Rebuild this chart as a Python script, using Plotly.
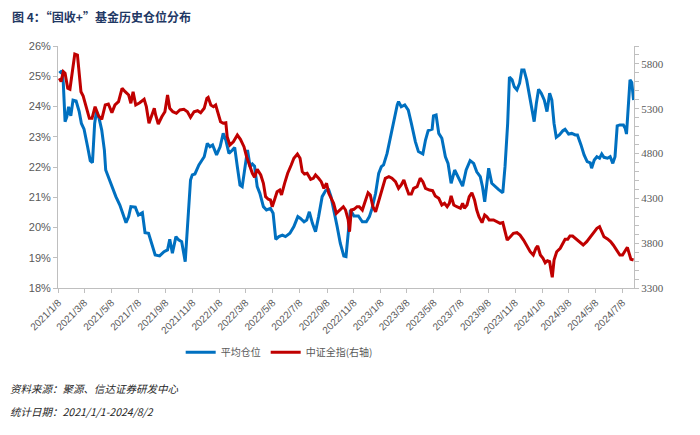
import pandas as pd
import plotly.graph_objects as go

# day offsets from 2021-01-08
START = "2021-01-08"

avg_days = [2, 8, 11, 15, 19, 23, 28, 33, 40, 47, 52, 58, 66, 72, 77, 82, 86, 92, 98, 104,
            107, 115, 123, 130, 139, 145, 153, 159, 164, 174, 181, 190, 196, 204, 209, 219, 229, 239, 247, 252,
            258, 266, 272, 279, 287, 292, 299, 303, 309, 318, 326, 330, 337, 343, 349, 358, 366, 373, 379, 386,
            394, 399, 405, 411, 416, 422, 428, 434, 439, 444, 450, 456, 464, 471, 480, 486, 492, 499, 507, 514,
            524, 533, 542, 548, 556, 562, 568, 575, 582, 589, 597, 605, 612, 617, 623, 631, 638, 646, 651, 656,
            661, 669, 679, 688, 697, 704, 710, 718, 725, 731, 736, 744, 752, 759, 767, 770, 776, 784, 792, 799,
            808, 815, 825, 831, 837, 846, 849, 855, 861, 868, 876, 882, 889, 897, 906, 915, 923, 932, 940, 947,
            955, 960, 965, 970, 974, 981, 989, 996, 1006, 1011, 1017, 1021, 1027, 1032, 1038, 1044, 1049, 1054, 1060, 1066,
            1072, 1077, 1082, 1087, 1093, 1100, 1106, 1112, 1117, 1122, 1127, 1134, 1142, 1147, 1155, 1162, 1170, 1175, 1183, 1190,
            1197, 1204, 1207, 1213, 1219, 1225, 1230, 1235, 1243, 1249, 1255, 1260, 1265, 1271, 1279, 1283, 1286, 1290, 1294, 1298,
            1302]
avg_pos = [25.10, 25.18, 24.77, 23.50, 23.66, 23.99, 23.69, 24.21, 24.18, 23.83, 23.44, 23.25, 22.67, 22.21, 22.14, 23.44, 23.83, 23.61, 23.22, 22.56,
           21.90, 21.59, 21.35, 21.02, 20.74, 20.47, 20.16, 20.36, 20.69, 20.67, 20.41, 20.49, 19.83, 19.81, 19.59, 19.09, 19.06, 19.20, 19.26, 19.61,
           19.15, 19.70, 19.59, 19.53, 18.87, 20.03, 21.57, 21.74, 21.77, 22.07, 22.23, 22.34, 22.78, 22.67, 22.73, 22.40, 22.67, 23.11, 22.89, 22.45,
           22.56, 22.65, 22.01, 21.40, 21.35, 21.90, 22.56, 22.01, 22.10, 22.03, 21.35, 21.13, 20.69, 20.58, 20.63, 20.47, 19.61, 19.70, 19.75, 19.70,
           19.81, 20.03, 20.36, 20.30, 20.19, 20.25, 20.52, 20.14, 19.86, 20.36, 21.02, 21.22, 21.24, 21.02, 20.63, 20.03, 19.48, 19.06, 19.04, 19.70,
           20.58, 20.38, 20.38, 20.19, 20.19, 20.36, 20.63, 21.13, 21.79, 22.01, 22.07, 22.45, 23.00, 23.55, 24.05, 24.16, 23.99, 24.05, 23.88, 23.44,
           22.84, 22.51, 22.43, 22.89, 23.20, 23.25, 23.69, 23.72, 23.11, 22.95, 22.34, 22.12, 21.46, 21.90, 21.63, 21.37, 21.90, 22.21, 22.12, 21.84,
           21.68, 21.35, 20.85, 21.57, 21.96, 21.46, 21.35, 21.26, 21.15, 22.01, 23.44, 24.97, 24.88, 24.65, 24.55, 24.77, 25.21, 25.21, 24.88, 24.38,
           23.88, 23.50, 24.11, 24.57, 24.44, 24.21, 23.83, 24.44, 24.21, 23.44, 22.98, 23.06, 23.20, 23.25, 23.09, 23.11, 23.06, 23.06, 22.73, 22.40,
           22.18, 22.14, 21.96, 22.23, 22.34, 22.29, 22.43, 22.32, 22.29, 22.34, 22.12, 22.34, 23.36, 23.39, 23.39, 23.28, 23.09, 23.88, 24.88, 24.79,
           24.21]

idx_days = [2, 6, 11, 15, 21, 26, 32, 37, 43, 47, 51, 56, 62, 70, 76, 83, 91, 98, 106, 113,
            121, 128, 136, 144, 151, 159, 164, 169, 175, 184, 194, 199, 205, 211, 217, 220, 226, 234, 241, 247,
            252, 259, 267, 275, 284, 292, 299, 307, 315, 322, 330, 336, 339, 345, 351, 356, 361, 367, 373, 379,
            382, 388, 396, 405, 412, 420, 426, 434, 439, 444, 450, 458, 464, 469, 475, 480, 484, 489, 495, 501,
            505, 512, 519, 527, 533, 541, 547, 552, 557, 563, 571, 577, 582, 589, 595, 601, 607, 612, 618, 623,
            629, 637, 645, 650, 656, 659, 663, 669, 676, 681, 688, 693, 701, 706, 712, 718, 725, 733, 740, 748,
            755, 763, 770, 776, 782, 787, 793, 799, 804, 812, 819, 825, 831, 840, 847, 853, 861, 868, 874, 880,
            885, 889, 895, 902, 910, 915, 919, 925, 930, 936, 942, 947, 952, 959, 965, 970, 975, 985, 994, 1000,
            1006, 1011, 1016, 1023, 1030, 1038, 1045, 1053, 1060, 1068, 1075, 1081, 1085, 1091, 1097, 1102, 1107, 1112, 1115, 1118,
            1122, 1128, 1136, 1142, 1147, 1153, 1158, 1164, 1172, 1179, 1188, 1196, 1204, 1211, 1219, 1225, 1230, 1235, 1243, 1250,
            1256, 1264, 1271, 1277, 1283, 1288, 1292, 1296, 1302]
csi_all = [5640, 5602, 5713, 5695, 5528, 5517, 5732, 5911, 5900, 5695, 5490, 5442, 5342, 5193, 5193, 5323, 5219, 5182, 5342, 5353,
           5256, 5342, 5379, 5528, 5490, 5453, 5361, 5490, 5342, 5367, 5405, 5323, 5138, 5230, 5305, 5230, 5130, 5211, 5267, 5453,
           5305, 5267, 5249, 5286, 5294, 5267, 5204, 5267, 5278, 5256, 5305, 5416, 5427, 5342, 5323, 5342, 5267, 5155, 5138, 5144,
           4988, 4895, 4932, 5007, 4959, 4877, 4765, 4635, 4580, 4535, 4624, 4561, 4468, 4319, 4290, 4282, 4207, 4282, 4374, 4393,
           4338, 4468, 4580, 4672, 4747, 4795, 4747, 4598, 4572, 4580, 4513, 4524, 4561, 4524, 4486, 4412, 4468, 4356, 4290, 4245,
           4133, 4170, 4207, 4170, 4059, 3928, 4170, 4178, 4207, 4207, 4170, 4245, 4363, 4338, 4207, 4151, 4263, 4393, 4524, 4542,
           4524, 4486, 4412, 4449, 4505, 4430, 4349, 4349, 4412, 4430, 4524, 4486, 4412, 4393, 4386, 4327, 4301, 4226, 4245, 4207,
           4245, 4327, 4226, 4207, 4189, 4245, 4189, 4226, 4319, 4363, 4282, 4170, 4095, 4029, 4114, 4095, 4059, 4059, 4040, 4022,
           4029, 3928, 3835, 3872, 3910, 3917, 3891, 3835, 3769, 3705, 3668, 3743, 3769, 3668, 3631, 3582, 3604, 3594, 3501, 3419,
           3612, 3705, 3743, 3791, 3843, 3843, 3880, 3880, 3843, 3817, 3780, 3817, 3872, 3917, 3966, 3984, 3928, 3872, 3847, 3817,
           3780, 3724, 3668, 3668, 3724, 3754, 3687, 3620, 3612]

tick_dates = ["2021-01-08", "2021-03-08", "2021-05-08", "2021-07-08", "2021-09-08", "2021-11-08",
              "2022-01-08", "2022-03-08", "2022-05-08", "2022-07-08", "2022-09-08", "2022-11-08",
              "2023-01-08", "2023-03-08", "2023-05-08", "2023-07-08", "2023-09-08", "2023-11-08",
              "2024-01-08", "2024-03-08", "2024-05-08", "2024-07-08"]
tick_text = [f"{d[:4]}/{int(d[5:7])}/{int(d[8:])}" for d in tick_dates]

start = pd.Timestamp(START)
avg_x = start + pd.to_timedelta(avg_days, unit="D")
idx_x = start + pd.to_timedelta(idx_days, unit="D")

BLUE = "#0070C0"
RED = "#C00000"
AXIS = "#BFBFBF"
TICK = "#595959"

fig = go.Figure()
fig.add_trace(go.Scatter(x=avg_x, y=avg_pos, name="平均仓位", mode="lines",
                         line=dict(color=BLUE, width=3)))
fig.add_trace(go.Scatter(x=idx_x, y=csi_all, name="中证全指(右轴)", mode="lines",
                         line=dict(color=RED, width=3), yaxis="y2"))

# page body adds an 8px offset, so margins are trimmed by that amount
fig.update_layout(
    width=700, height=435,
    paper_bgcolor="white", plot_bgcolor="white",
    margin=dict(l=50, r=74, t=38, b=155),
    font=dict(family="Liberation Sans, Arial", color=TICK, size=11),
    xaxis=dict(
        type="date", range=["2021-01-07", "2024-08-03"],
        tickvals=tick_dates, ticktext=tick_text, tickangle=-45,
        tickfont=dict(size=10, color=TICK),
        showline=True, linecolor=AXIS, linewidth=1,
        ticks="outside", ticklen=4, tickcolor=AXIS,
        showgrid=False, zeroline=False,
    ),
    yaxis=dict(
        range=[18, 26], dtick=1, ticksuffix="%",
        tickfont=dict(size=11, color=TICK),
        showline=True, linecolor=AXIS, linewidth=1,
        ticks="outside", ticklen=4, tickcolor=AXIS,
        showgrid=False, zeroline=False,
    ),
    yaxis2=dict(
        overlaying="y", side="right", range=[3300, 6000],
        tick0=3300, dtick=500,
        tickfont=dict(family="Liberation Serif, Times New Roman", size=11, color=TICK),
        showline=True, linecolor=AXIS, linewidth=1,
        ticks="outside", ticklen=4, tickcolor=AXIS,
        minor=dict(dtick=100, ticks="outside", ticklen=4, tickcolor=AXIS),
        showgrid=False, zeroline=False,
    ),
    legend=dict(
        orientation="h", x=0.213, xanchor="left", y=-0.265, yanchor="middle",
        font=dict(family="Noto Sans CJK SC", size=10, color=TICK),
        bgcolor="rgba(0,0,0,0)",
    ),
    showlegend=True,
)

fig.add_annotation(
    text="<b>图 4：“固收+”基金历史仓位分布</b>",
    xref="paper", yref="paper", x=-0.083, y=1.12, xanchor="left", yanchor="middle",
    showarrow=False, font=dict(family="Noto Sans CJK SC", size=12, color="#1F3864"),
)
fig.add_annotation(
    text="<i>资料来源：聚源、信达证券研发中心</i>",
    xref="paper", yref="paper", x=-0.086, y=-0.417, xanchor="left", yanchor="middle",
    showarrow=False, font=dict(family="Noto Sans CJK SC", size=10.5, color="#262626"),
)
fig.add_annotation(
    text="<i>统计日期：2021/1/1-2024/8/2</i>",
    xref="paper", yref="paper", x=-0.086, y=-0.512, xanchor="left", yanchor="middle",
    showarrow=False, font=dict(family="Noto Sans CJK SC", size=10.5, color="#262626"),
)

fig.write_html("out.html")
